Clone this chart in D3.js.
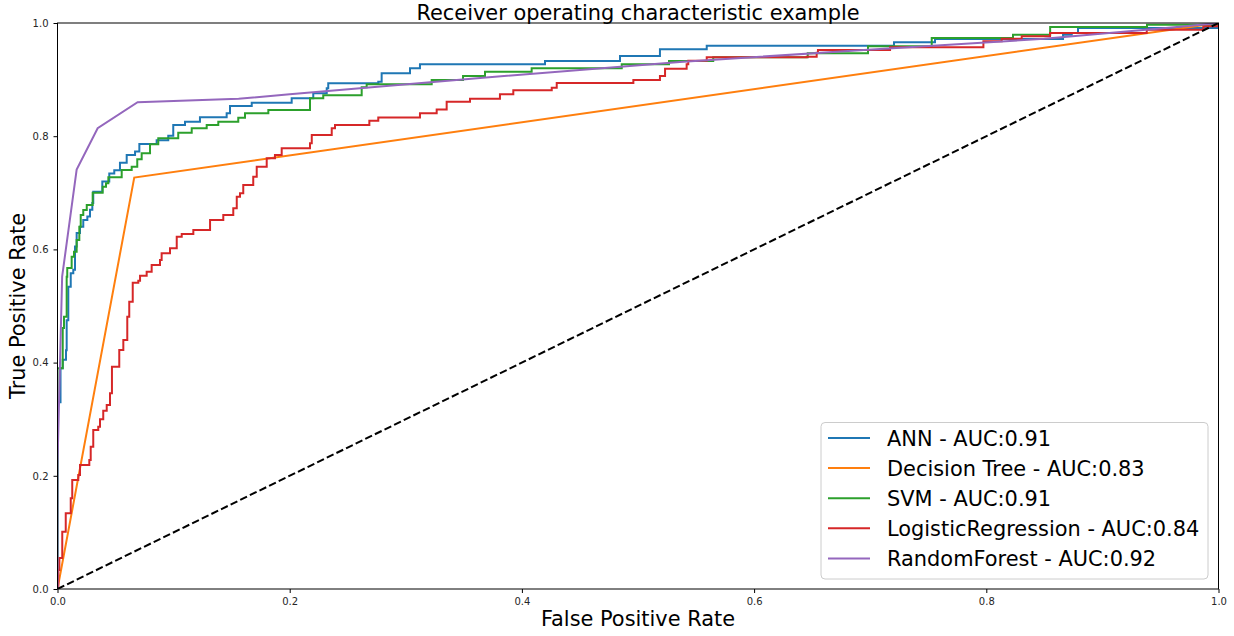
<!DOCTYPE html>
<html>
<head>
<meta charset="utf-8">
<script src="https://cdn.jsdelivr.net/npm/d3@7"></script>
<style>
  html, body { margin: 0; padding: 0; background: #fff; }
  svg { display: block; font-family: "DejaVu Sans", sans-serif; }
</style>
</head>
<body>
<svg id="chart" width="1234" height="636"></svg>
<script>
// ---------------- data ----------------
const chartTitle = "Receiver operating characteristic example";
const xLabel = "False Positive Rate";
const yLabel = "True Positive Rate";
const tickValues = [0.0, 0.2, 0.4, 0.6, 0.8, 1.0];

const seriesNames = ["ANN", "Decision Tree", "SVM", "LogisticRegression", "RandomForest"];
const seriesAUC = [0.91, 0.83, 0.91, 0.84, 0.92];

// step curves: [fpr, tpr] corner points (horizontal run starts here)
const annPoints = [[0,0],[0,0.33],[0.0026,0.39],[0.0045,0.405],[0.0073,0.422],[0.0079,0.475],[0.0093,0.534],
  [0.0114,0.558],[0.0136,0.564],[0.0151,0.605],[0.0165,0.629],[0.0194,0.640],[0.0222,0.652],[0.0257,0.658],
  [0.028,0.670],[0.030,0.682],[0.0308,0.702],[0.0386,0.720],[0.0446,0.734],[0.0489,0.740],[0.0538,0.753],
  [0.0596,0.767],[0.0668,0.773],[0.0705,0.786],[0.0854,0.793],[0.0954,0.801],[0.0997,0.8198],[0.1098,0.8256],
  [0.1227,0.8334],[0.1457,0.8405],[0.1486,0.8534],[0.1673,0.8592],[0.2017,0.867],[0.2203,0.8758],[0.2319,0.8846],
  [0.2332,0.8935],[0.2763,0.8963],[0.2792,0.9111],[0.3036,0.920],[0.3122,0.927],[0.4199,0.9329],[0.4845,0.9417],
  [0.5189,0.9535],[0.5592,0.960],[0.7205,0.9659],[0.7558,0.9717],[0.8661,0.9793],[0.8736,0.9823],[0.879,0.9912],[1,1]];

const dtPoints = [[0,0],[0.0661,0.727],[1,1]];

const svmPoints = [[0,0],[0,0.39],[0.0045,0.4611],[0.0056,0.4811],[0.0079,0.5518],[0.0084,0.5671],[0.0122,0.5871],
  [0.0142,0.5959],[0.0165,0.6166],[0.0188,0.6401],[0.020,0.6608],[0.0222,0.6696],[0.0252,0.6784],[0.0303,0.7002],
  [0.0389,0.7108],[0.0418,0.7168],[0.0438,0.7274],[0.0553,0.7403],[0.0639,0.7461],[0.0687,0.7592],[0.0725,0.7698],
  [0.0797,0.7857],[0.0868,0.7963],[0.104,0.8062],[0.1156,0.814],[0.1285,0.8198],[0.1385,0.8256],[0.1557,0.8327],
  [0.1615,0.8405],[0.1816,0.8463],[0.2175,0.867],[0.2289,0.8722],[0.262,0.8864],[0.2663,0.8917],[0.3223,0.8993],
  [0.3493,0.9064],[0.3682,0.914],[0.4084,0.92],[0.486,0.927],[0.5267,0.9329],[0.5648,0.9394],[0.6462,0.9465],
  [0.6981,0.9588],[0.753,0.9735],[0.823,0.9793],[0.855,0.9929],[0.9384,0.997],[1,1]];

const lrPoints = [[0,0],[0.0007,0.0336],[0.0016,0.0548],[0.0041,0.1012],[0.0071,0.1337],[0.0114,0.1602],[0.0127,0.1926],
  [0.0179,0.2014],[0.0194,0.2191],[0.0274,0.2279],[0.0286,0.2514],[0.0308,0.2809],[0.0351,0.2867],[0.0366,0.2998],
  [0.0394,0.315],[0.0424,0.3251],[0.0452,0.3458],[0.0469,0.3928],[0.0532,0.4223],[0.0567,0.4399],[0.0601,0.4811],
  [0.0618,0.5076],[0.0648,0.5412],[0.0696,0.5447],[0.0711,0.5535],[0.0768,0.5606],[0.0811,0.5724],[0.0883,0.5813],
  [0.0897,0.5931],[0.0969,0.6019],[0.1027,0.6224],[0.107,0.6272],[0.117,0.6343],[0.1314,0.6519],[0.1428,0.6608],
  [0.1514,0.6726],[0.1544,0.6931],[0.1572,0.6991],[0.16,0.7138],[0.1686,0.7284],[0.1716,0.7461],[0.1802,0.7609],
  [0.1873,0.7668],[0.1931,0.7786],[0.2175,0.7875],[0.219,0.8021],[0.2362,0.814],[0.239,0.8198],[0.2686,0.8274],
  [0.2763,0.833],[0.3122,0.8405],[0.3266,0.8472],[0.3352,0.861],[0.3553,0.8663],[0.3811,0.874],[0.3926,0.8811],
  [0.4257,0.8855],[0.43,0.894],[0.496,0.8993],[0.5189,0.9064],[0.5233,0.919],[0.5419,0.927],[0.5433,0.9334],
  [0.5592,0.9394],[0.6453,0.9405],[0.6539,0.9475],[0.655,0.9523],[0.7171,0.957],[0.7975,0.9677],[0.8133,0.9723],
  [0.8305,0.9765],[0.8549,0.9823],[0.9382,0.9882],[0.9869,0.9942],[1,1]];

const rfPoints = [[0,0],[0,0.22],[0.004,0.552],[0.0165,0.741],[0.0346,0.814],[0.069,0.860],[0.156,0.866],
  [0.2,0.874],[0.364,0.903],[0.536,0.931],[0.691,0.952],[0.85,0.972],[0.969,0.994],[1,1]];

const chancePoints = [[0,0],[1,1]];

// ---------------- drawing ----------------
const svg = d3.select("#chart");
const plot = { left: 57.5, right: 1218.5, top: 23, bottom: 589 };
const x = d3.scaleLinear().domain([0, 1]).range([plot.left, plot.right]);
const y = d3.scaleLinear().domain([0, 1]).range([plot.bottom, plot.top]);

const colors = ["#1f77b4", "#ff7f0e", "#2ca02c", "#d62728", "#9467bd"];
const stepped = [true, false, true, true, false];
const allPoints = [annPoints, dtPoints, svmPoints, lrPoints, rfPoints];

svg.append("defs").append("clipPath").attr("id", "clip")
  .append("rect").attr("x", plot.left).attr("y", plot.top)
  .attr("width", plot.right - plot.left).attr("height", plot.bottom - plot.top);

const g = svg.append("g").attr("clip-path", "url(#clip)");

allPoints.forEach((pts, i) => {
  const line = d3.line().x(d => x(d[0])).y(d => y(d[1]))
    .curve(stepped[i] ? d3.curveStepAfter : d3.curveLinear);
  g.append("path").datum(pts)
    .attr("fill", "none").attr("stroke", colors[i])
    .attr("stroke-width", 2).attr("stroke-linejoin", "miter")
    .attr("d", line);
});

g.append("path").datum(chancePoints)
  .attr("fill", "none").attr("stroke", "#000").attr("stroke-width", 2)
  .attr("stroke-dasharray", "7.5,3.2")
  .attr("d", d3.line().x(d => x(d[0])).y(d => y(d[1])));

// axes
const fmt = d3.format(".1f");
const xAxis = svg.append("g").attr("transform", `translate(0,${plot.bottom})`)
  .call(d3.axisBottom(x).tickValues(tickValues).tickFormat(fmt).tickSize(4).tickSizeOuter(0).tickPadding(5));
const yAxis = svg.append("g").attr("transform", `translate(${plot.left},0)`)
  .call(d3.axisLeft(y).tickValues(tickValues).tickFormat(fmt).tickSize(4).tickSizeOuter(0).tickPadding(5));
[xAxis, yAxis].forEach(a => {
  a.select(".domain").remove();
  a.selectAll("line").attr("stroke", "#000").attr("stroke-width", 1);
  a.selectAll("text").attr("font-family", "DejaVu Sans").attr("font-size", 10).attr("fill", "#262626");
});

// frame (spines)
svg.append("rect").attr("x", plot.left).attr("y", plot.top)
  .attr("width", plot.right - plot.left).attr("height", plot.bottom - plot.top)
  .attr("fill", "none").attr("stroke", "#000").attr("stroke-width", 1);

// title & labels
const fs = 20.9;
svg.append("text").attr("x", (plot.left + plot.right) / 2).attr("y", 19.5)
  .attr("text-anchor", "middle").attr("font-size", fs).attr("fill", "#000").text(chartTitle);
svg.append("text").attr("x", (plot.left + plot.right) / 2).attr("y", 626)
  .attr("text-anchor", "middle").attr("font-size", fs).attr("fill", "#000").text(xLabel);
svg.append("text").attr("transform", `translate(24.5,${(plot.top + plot.bottom) / 2}) rotate(-90)`)
  .attr("text-anchor", "middle").attr("font-size", fs).attr("fill", "#000").text(yLabel);

// legend
const leg = svg.append("g");
leg.append("rect").attr("x", 821).attr("y", 422.5).attr("width", 387).attr("height", 156.5)
  .attr("rx", 4).attr("ry", 4)
  .attr("fill", "#fff").attr("fill-opacity", 0.8).attr("stroke", "#cccccc").attr("stroke-width", 1);
seriesNames.forEach((name, i) => {
  const cy = 438 + i * 30.1;
  leg.append("line").attr("x1", 828).attr("x2", 870).attr("y1", cy).attr("y2", cy)
    .attr("stroke", colors[i]).attr("stroke-width", 2);
  leg.append("text").attr("x", 887).attr("y", cy + 7.6).attr("font-size", fs).attr("fill", "#000")
    .text(`${name} - AUC:${seriesAUC[i].toFixed(2)}`);
});
</script>
</body>
</html>
